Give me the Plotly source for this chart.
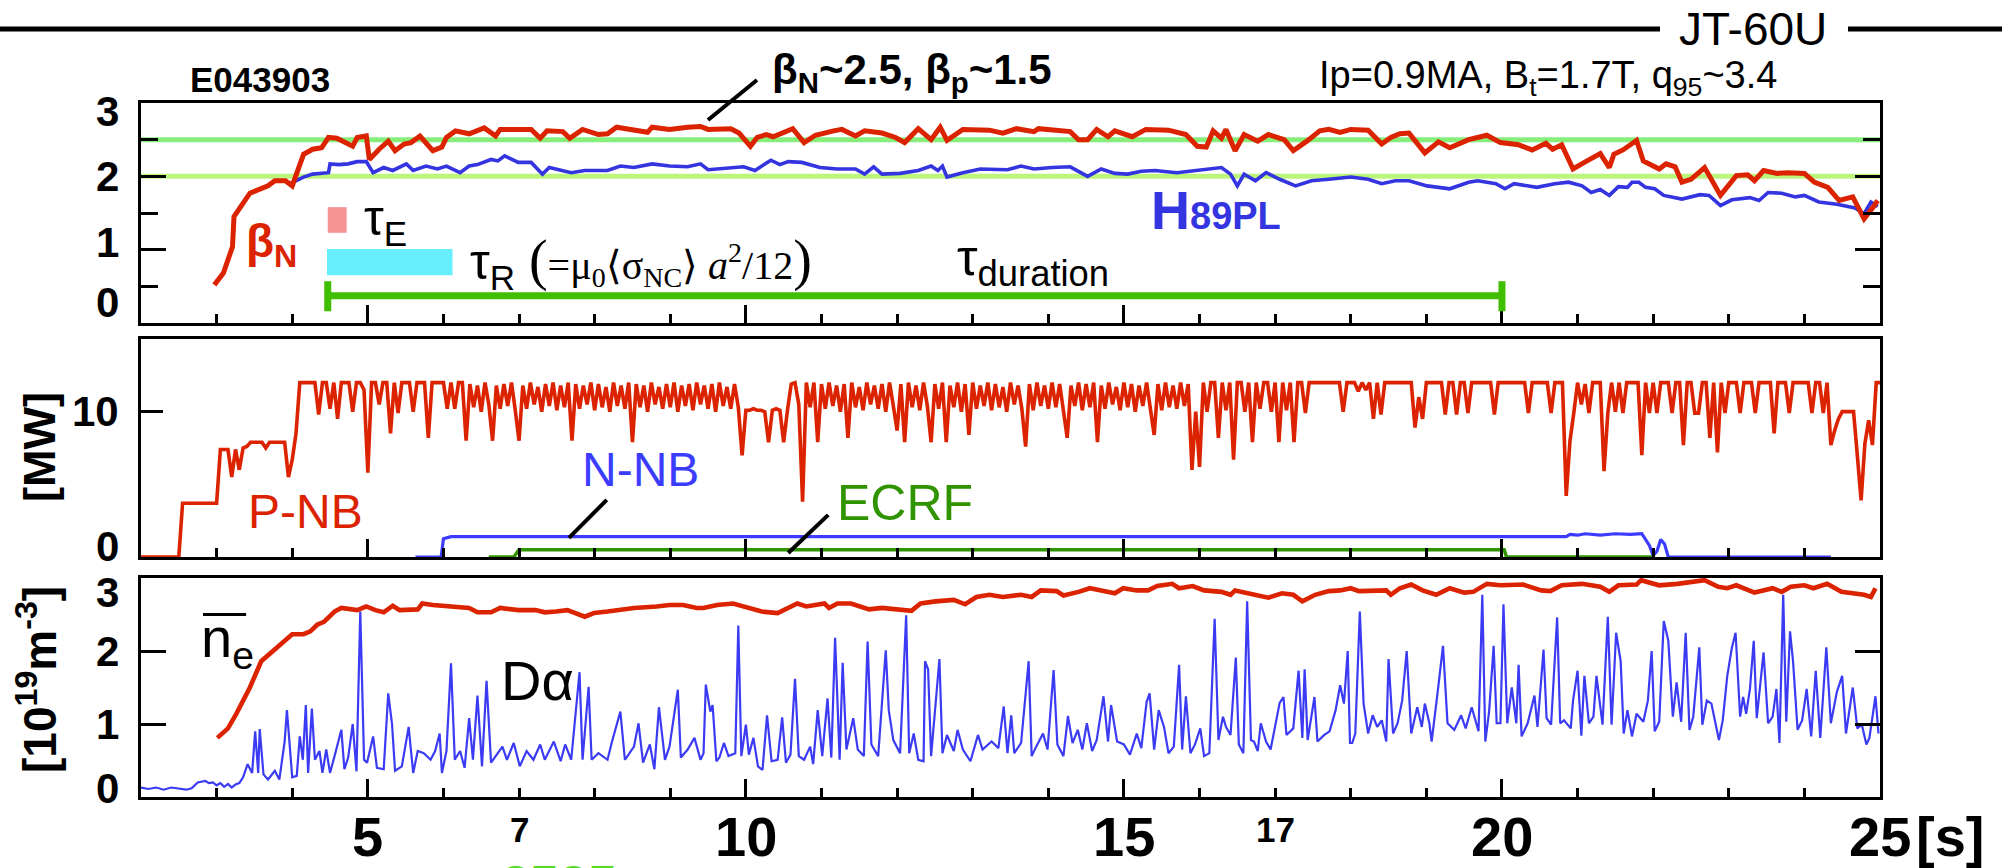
import numpy as np
import plotly.graph_objects as go

# ---------------- data ----------------
# time axis [s]
t_range = [2, 25]
x_major_ticks = [5, 10, 15, 20]
x_big_labels = ["5", "10", "15", "20", "25"]
x_big_pos = [5, 10, 15, 20, 25]
x_small_labels = ["7", "17"]
x_small_pos = [7, 17]

# beta_N (top panel, red)
bn_t = [2.97, 3.09, 3.21, 3.23, 3.44, 3.68, 3.77, 3.91, 4.00, 4.06,
        4.15, 4.27, 4.39, 4.48, 4.59, 4.80, 4.86, 4.98, 5.02, 5.15,
        5.27, 5.36, 5.48, 5.57, 5.69, 5.86, 5.98, 6.04, 6.16, 6.34,
        6.54, 6.69, 6.75, 7.16, 7.28, 7.37, 7.58, 7.67, 7.84, 8.05,
        8.17, 8.29, 8.52, 8.70, 8.76, 8.99, 9.23, 9.40, 9.50, 9.80,
        9.91, 10.06, 10.15, 10.27, 10.36, 10.62, 10.77, 10.92, 11.16, 11.27,
        11.45, 11.57, 11.80, 11.98, 12.10, 12.28, 12.45, 12.57, 12.66, 12.87,
        13.22, 13.40, 13.58, 13.81, 13.87, 14.29, 14.40, 14.52, 14.64, 14.79,
        14.88, 15.11, 15.29, 15.59, 15.82, 15.97, 16.09, 16.18, 16.29, 16.35,
        16.47, 16.59, 16.77, 16.91, 17.12, 17.24, 17.42, 17.59, 17.71, 17.86,
        18.00, 18.23, 18.41, 18.53, 18.65, 18.77, 18.98, 19.16, 19.31, 19.56,
        19.80, 19.98, 20.22, 20.40, 20.58, 20.67, 20.79, 20.94, 21.09, 21.30,
        21.42, 21.48, 21.60, 21.78, 21.87, 22.08, 22.17, 22.29, 22.38, 22.50,
        22.68, 22.89, 23.10, 23.25, 23.34, 23.46, 23.64, 23.79, 24.00, 24.13,
        24.31, 24.46, 24.64, 24.79, 24.91, 24.97]
bn_v = [0.52, 0.68, 1.04, 1.45, 1.77, 1.87, 1.94, 1.94, 1.87, 2.03,
        2.30, 2.37, 2.39, 2.53, 2.52, 2.41, 2.53, 2.55, 2.23, 2.37,
        2.48, 2.35, 2.44, 2.46, 2.55, 2.35, 2.40, 2.53, 2.62, 2.58,
        2.66, 2.55, 2.64, 2.64, 2.52, 2.62, 2.61, 2.52, 2.64, 2.57,
        2.58, 2.67, 2.63, 2.60, 2.67, 2.64, 2.67, 2.68, 2.64, 2.65,
        2.59, 2.41, 2.53, 2.57, 2.54, 2.65, 2.46, 2.56, 2.62, 2.64,
        2.55, 2.62, 2.59, 2.53, 2.46, 2.65, 2.50, 2.67, 2.49, 2.64,
        2.63, 2.59, 2.65, 2.61, 2.65, 2.61, 2.50, 2.50, 2.64, 2.54,
        2.62, 2.54, 2.64, 2.63, 2.57, 2.41, 2.40, 2.62, 2.52, 2.64,
        2.35, 2.57, 2.48, 2.57, 2.50, 2.35, 2.48, 2.62, 2.64, 2.60,
        2.64, 2.63, 2.44, 2.53, 2.58, 2.59, 2.32, 2.47, 2.39, 2.50,
        2.56, 2.46, 2.43, 2.36, 2.45, 2.37, 2.43, 2.10, 2.19, 2.31,
        2.12, 2.30, 2.36, 2.49, 2.21, 2.10, 2.17, 2.13, 1.92, 1.96,
        2.12, 1.74, 2.01, 2.02, 1.94, 2.08, 2.04, 2.05, 2.04, 1.92,
        1.85, 1.67, 1.72, 1.42, 1.58, 1.67]

# H89PL (top panel, blue)
h89_t = [3.97, 4.15, 4.27, 4.48, 4.50, 4.62, 4.74, 4.86, 4.98, 5.07,
         5.21, 5.33, 5.51, 5.60, 5.77, 5.92, 6.04, 6.22, 6.34, 6.45,
         6.63, 6.72, 6.81, 6.99, 7.16, 7.31, 7.40, 7.69, 7.87, 8.17,
         8.34, 8.52, 8.76, 8.99, 9.23, 9.40, 9.50, 9.68, 9.97, 10.12,
         10.33, 10.45, 10.56, 10.74, 10.98, 11.21, 11.45, 11.57, 11.69, 11.80,
         12.04, 12.28, 12.45, 12.54, 12.60, 12.66, 12.87, 13.10, 13.46, 13.64,
         13.81, 14.05, 14.29, 14.52, 14.70, 14.88, 15.05, 15.23, 15.41, 15.70,
         16.00, 16.29, 16.41, 16.50, 16.59, 16.74, 16.88, 17.06, 17.27, 17.48,
         17.71, 18.00, 18.23, 18.41, 18.59, 18.77, 19.01, 19.31, 19.56, 19.68,
         19.92, 20.04, 20.16, 20.46, 20.70, 20.88, 21.06, 21.18, 21.30, 21.42,
         21.54, 21.66, 21.72, 21.81, 21.90, 22.02, 22.14, 22.38, 22.62, 22.74,
         22.89, 23.04, 23.28, 23.40, 23.52, 23.70, 23.88, 24.00, 24.19, 24.43,
         24.67, 24.79, 24.88, 24.97]
h89_v = [1.90, 1.99, 2.03, 2.05, 2.17, 2.16, 2.17, 2.20, 2.20, 2.05,
         2.12, 2.08, 2.17, 2.08, 2.14, 2.10, 2.14, 2.05, 2.14, 2.16,
         2.23, 2.21, 2.28, 2.19, 2.19, 2.03, 2.12, 2.05, 2.08, 2.08,
         2.14, 2.12, 2.17, 2.14, 2.13, 2.17, 2.09, 2.11, 2.13, 2.08,
         2.22, 2.16, 2.20, 2.19, 2.12, 2.10, 2.10, 2.03, 2.13, 2.03,
         2.04, 2.08, 2.14, 2.08, 2.14, 1.99, 2.05, 2.10, 2.09, 2.14,
         2.10, 2.12, 2.13, 2.00, 2.10, 2.04, 2.03, 2.07, 2.08, 2.05,
         2.08, 2.12, 2.03, 1.87, 2.03, 1.94, 2.05, 1.96, 1.87, 1.94,
         1.96, 1.99, 1.96, 1.90, 1.94, 1.94, 1.87, 1.83, 1.92, 1.94,
         1.90, 1.83, 1.90, 1.85, 1.90, 1.92, 1.87, 1.78, 1.82, 1.74,
         1.86, 1.85, 1.92, 1.92, 1.85, 1.83, 1.74, 1.69, 1.75, 1.74,
         1.60, 1.68, 1.71, 1.67, 1.78, 1.77, 1.72, 1.74, 1.65, 1.62,
         1.57, 1.49, 1.65, 1.59]

beta_ref_levels = [2.5, 2.0]
tauE_t = [4.47, 4.72]
tauE_y = [1.23, 1.58]
tauR_t = [4.46, 6.12]
tauR_y = [0.65, 1.01]
tdur_t = [4.47, 20.0]
tdur_y = 0.37
tdur_cap = [0.16, 0.57]

# P-NB power [MW], sampled every 0.05 s from 2.00 s to 25.00 s
pnb_t0 = 2.0
pnb_dt = 0.05
pnb_v = [
    0, 0, 0, 0, 0, 0, 0, 0, 0, 0, 0, 3.7, 3.7, 3.7, 3.7, 3.7, 3.7, 3.7, 3.7, 3.7,
    3.7, 7.4, 7.4, 7.4, 5.5, 7.4, 6.0, 7.5, 7.6, 7.9, 7.9, 7.9, 7.9, 7.5, 7.9, 7.9, 7.9, 7.9, 7.9, 5.5,
    6.7, 8.5, 12, 12, 12, 12, 12, 9.8, 12, 12, 10.2, 12, 9.5, 12, 12, 12, 10.0, 12, 12, 11.5,
    5.8, 12, 12, 10.5, 12, 12, 8.5, 12, 9.9, 12, 12, 12, 10.0, 12, 12, 12, 8.2, 12, 12, 12,
    12, 10.2, 12, 10.2, 12, 12, 8.0, 11.9, 10.3, 11.8, 10.0, 12, 10.5, 8.0, 11.8, 10.2, 11.9, 10.4, 12, 10.1,
    8.0, 11.8, 10.2, 12, 10.5, 11.7, 10.0, 11.9, 10.4, 12, 10.1, 11.8, 10.3, 12, 8.0, 11.9, 10.2, 11.8, 10.5, 12,
    10.1, 11.9, 10.3, 11.7, 10.0, 12, 10.4, 11.8, 10.2, 12, 7.9, 11.9, 10.3, 11.8, 10.0, 12, 10.5, 11.7, 10.2, 11.9,
    10.3, 12, 10.0, 11.8, 10.4, 11.9, 10.1, 12, 10.5, 11.8, 10.2, 11.9, 10.0, 12, 10.4, 11.7, 10.2, 11.9, 10.3, 7.0,
    10.1, 10.1, 10.2, 10.1, 10.1, 10.0, 7.9, 10.1, 10.2, 10.1, 7.9, 10.1, 11.9, 12, 10.5, 3.8, 12, 10.3, 12, 7.9,
    11.9, 10.2, 12, 10.4, 11.8, 10.0, 11.9, 8.2, 12, 10.3, 11.7, 10.1, 12, 10.5, 11.8, 10.2, 11.9, 10.0, 12, 10.4,
    8.7, 11.9, 7.9, 12, 10.3, 11.8, 10.1, 12, 10.4, 7.9, 11.9, 10.2, 12, 7.9, 11.8, 10.3, 12, 10.0, 11.9, 8.4,
    12, 10.2, 11.8, 10.4, 12, 10.1, 11.9, 10.3, 11.7, 10.0, 12, 10.5, 11.8, 10.2, 7.6, 11.9, 10.1, 12, 10.4, 11.8,
    10.2, 12, 10.3, 11.9, 10.0, 8.2, 11.8, 10.4, 12, 10.1, 11.9, 10.3, 12, 7.9, 11.8, 10.2, 12, 10.5, 11.7, 10.1,
    12, 10.3, 11.9, 10.0, 11.8, 10.4, 12, 10.2, 8.4, 11.9, 10.1, 12, 10.3, 11.8, 10.2, 12, 10.4, 11.9, 6.0, 10.0,
    6.2, 12, 10.0, 12, 12, 8.2, 12, 10.1, 12, 6.7, 12, 12, 10.0, 12, 7.9, 12, 10.2, 12, 12, 10.0,
    12, 7.9, 12, 10.1, 12, 7.9, 12, 12, 9.9, 12, 12, 12, 12, 12, 12, 12, 12, 12, 10.0, 12,
    12, 12, 11.4, 12, 11.5, 12, 9.5, 12, 9.8, 12, 12, 12, 12, 12, 12, 12, 12, 8.9, 11.0, 9.5,
    12, 12, 12, 12, 12, 9.8, 12, 12, 9.8, 12, 12, 9.9, 12, 12, 12, 12, 12, 12, 9.8, 12,
    12, 12, 12, 12, 12, 12, 12, 9.9, 12, 12, 12, 12, 12, 9.9, 12, 12, 12, 4.2, 8.0, 9.9,
    12, 10.5, 11.9, 9.9, 12, 12, 12, 5.9, 9.9, 12, 10.0, 12, 9.9, 12, 12, 12, 12, 7.0, 12, 9.9,
    12, 9.9, 12, 12, 12, 9.9, 12, 12, 7.7, 12, 12, 9.9, 9.9, 12, 12, 8.2, 12, 7.2, 12, 9.9,
    12, 12, 12, 9.9, 12, 12, 12, 9.9, 12, 12, 12, 12, 8.5, 12, 12, 12, 9.9, 12, 12, 12,
    12, 12, 9.9, 12, 12, 9.9, 12, 7.7, 8.7, 9.5, 10.0, 10.0, 10.0, 10.0, 7.0, 3.9, 7.8, 9.4, 7.7, 12,
    12]

# N-NB power [MW]
nnb_t = [5.63, 5.97, 6.00, 6.05, 6.10, 8.0, 10.0, 12.0, 14.0, 16.0, 18.0, 20.0, 20.85,
         20.90, 21.00, 21.10, 21.30, 21.50, 21.70, 21.85, 21.95, 22.00, 22.05, 22.10,
         22.15, 22.20, 24.35]
nnb_v = [0, 0, 1.25, 1.35, 1.4, 1.4, 1.4, 1.4, 1.4, 1.4, 1.4, 1.4, 1.4,
         1.55, 1.5, 1.6, 1.5, 1.6, 1.55, 1.6, 0.8, 0.1, 0.4, 1.2,
         0.9, 0, 0]

# ECRF power [MW]
ecrf_t = [6.60, 6.93, 7.00, 20.03, 20.06, 22.00]
ecrf_v = [0, 0, 0.5, 0.5, 0, 0]

# line-averaged density [1e19 m^-3]
ne_t = [3.01, 3.15, 3.26, 3.44, 3.59, 3.74, 3.86, 4.00, 4.15, 4.24,
        4.33, 4.42, 4.56, 4.65, 4.86, 4.98, 5.10, 5.21, 5.33, 5.42,
        5.66, 5.72, 5.86, 6.04, 6.34, 6.45, 6.63, 6.75, 6.99, 7.22,
        7.34, 7.49, 7.64, 7.87, 7.99, 8.17, 8.52, 8.82, 8.99, 9.17,
        9.35, 9.44, 9.62, 9.83, 9.97, 10.21, 10.42, 10.56, 10.68, 10.80,
        11.04, 11.10, 11.21, 11.39, 11.63, 11.80, 12.04, 12.19, 12.31, 12.51,
        12.75, 12.90, 13.05, 13.22, 13.40, 13.64, 13.78, 13.90, 14.11, 14.20,
        14.40, 14.55, 14.70, 14.88, 14.99, 15.17, 15.32, 15.44, 15.64, 15.73,
        15.91, 16.06, 16.29, 16.41, 16.47, 16.65, 16.91, 17.09, 17.24, 17.36,
        17.53, 17.71, 17.86, 18.00, 18.11, 18.47, 18.53, 18.65, 18.80, 18.95,
        19.13, 19.31, 19.50, 19.62, 19.80, 19.98, 20.28, 20.52, 20.64, 20.79,
        21.06, 21.30, 21.42, 21.54, 21.78, 21.84, 22.08, 22.32, 22.56, 22.68,
        22.86, 22.98, 23.10, 23.34, 23.58, 23.70, 23.82, 24.00, 24.12, 24.30,
        24.49, 24.79, 24.88, 24.94]
ne_v = [0.81, 0.94, 1.14, 1.50, 1.86, 2.00, 2.11, 2.23, 2.23, 2.27,
        2.36, 2.40, 2.54, 2.59, 2.56, 2.61, 2.56, 2.53, 2.62, 2.56,
        2.57, 2.65, 2.63, 2.61, 2.59, 2.53, 2.53, 2.59, 2.56, 2.56,
        2.53, 2.54, 2.56, 2.47, 2.52, 2.54, 2.59, 2.61, 2.63, 2.63,
        2.59, 2.59, 2.63, 2.65, 2.61, 2.54, 2.52, 2.59, 2.65, 2.61,
        2.65, 2.59, 2.65, 2.65, 2.57, 2.59, 2.57, 2.55, 2.65, 2.68,
        2.70, 2.64, 2.74, 2.77, 2.74, 2.77, 2.74, 2.83, 2.82, 2.76,
        2.81, 2.86, 2.83, 2.79, 2.86, 2.83, 2.83, 2.89, 2.92, 2.86,
        2.89, 2.83, 2.81, 2.77, 2.83, 2.79, 2.73, 2.79, 2.77, 2.68,
        2.77, 2.82, 2.83, 2.86, 2.82, 2.83, 2.77, 2.86, 2.91, 2.83,
        2.77, 2.86, 2.80, 2.81, 2.92, 2.90, 2.91, 2.83, 2.82, 2.90,
        2.92, 2.88, 2.81, 2.90, 2.91, 2.97, 2.90, 2.92, 2.95, 2.97,
        2.88, 2.86, 2.90, 2.80, 2.86, 2.81, 2.88, 2.90, 2.86, 2.92,
        2.81, 2.77, 2.74, 2.86]

# D-alpha (arbitrary units on the density scale)
da_t = [2.00, 2.10, 2.20, 2.30, 2.40, 2.50, 2.60, 2.67, 2.75, 2.85,
        2.90, 2.95, 3.00, 3.05, 3.10, 3.15, 3.20, 3.25, 3.30, 3.35,
        3.41, 3.47, 3.51, 3.55, 3.57, 3.62, 3.68, 3.77, 3.83, 3.90,
        3.93, 4.00, 4.06, 4.10, 4.14, 4.18, 4.21, 4.26, 4.30, 4.36,
        4.40, 4.45, 4.50, 4.56, 4.65, 4.69, 4.74, 4.80, 4.85, 4.90,
        4.95, 4.99, 5.07, 5.12, 5.21, 5.27, 5.32, 5.36, 5.45, 5.54,
        5.60, 5.66, 5.74, 5.83, 5.89, 5.95, 5.98, 6.04, 6.10, 6.15,
        6.22, 6.28, 6.34, 6.39, 6.45, 6.51, 6.57, 6.63, 6.69, 6.78,
        6.84, 6.93, 7.01, 7.10, 7.19, 7.28, 7.34, 7.46, 7.55, 7.61,
        7.69, 7.80, 7.84, 7.92, 7.96, 8.05, 8.17, 8.23, 8.34, 8.40,
        8.52, 8.58, 8.64, 8.73, 8.79, 8.85, 8.93, 8.99, 9.10, 9.14,
        9.23, 9.32, 9.40, 9.44, 9.47, 9.53, 9.56, 9.61, 9.65, 9.71,
        9.77, 9.86, 9.90, 9.94, 10.00, 10.04, 10.10, 10.16, 10.22, 10.28,
        10.34, 10.42, 10.48, 10.53, 10.59, 10.65, 10.70, 10.77, 10.85, 10.89,
        10.95, 11.01, 11.08, 11.13, 11.18, 11.24, 11.28, 11.33, 11.42, 11.48,
        11.56, 11.61, 11.66, 11.75, 11.85, 11.89, 11.95, 12.04, 12.12, 12.16,
        12.22, 12.28, 12.35, 12.37, 12.41, 12.45, 12.56, 12.60, 12.66, 12.75,
        12.80, 12.87, 12.97, 13.07, 13.13, 13.25, 13.34, 13.41, 13.46, 13.51,
        13.55, 13.64, 13.74, 13.78, 13.84, 13.93, 13.99, 14.07, 14.12, 14.20,
        14.26, 14.32, 14.39, 14.45, 14.51, 14.58, 14.64, 14.73, 14.79, 14.83,
        14.91, 15.00, 15.08, 15.17, 15.23, 15.30, 15.34, 15.40, 15.46, 15.53,
        15.59, 15.66, 15.73, 15.77, 15.82, 15.88, 15.94, 16.01, 16.06, 16.13,
        16.20, 16.25, 16.31, 16.35, 16.41, 16.48, 16.52, 16.58, 16.63, 16.68,
        16.72, 16.77, 16.81, 16.88, 16.94, 17.06, 17.11, 17.15, 17.24, 17.31,
        17.36, 17.39, 17.43, 17.52, 17.56, 17.65, 17.72, 17.80, 17.86, 17.91,
        17.96, 17.99, 18.02, 18.06, 18.12, 18.17, 18.23, 18.29, 18.35, 18.41,
        18.47, 18.50, 18.56, 18.62, 18.68, 18.74, 18.80, 18.88, 18.94, 18.98,
        19.04, 19.07, 19.16, 19.22, 19.28, 19.37, 19.46, 19.52, 19.60, 19.69,
        19.74, 19.78, 19.83, 19.89, 19.93, 19.98, 20.02, 20.07, 20.13, 20.19,
        20.22, 20.26, 20.34, 20.43, 20.47, 20.55, 20.59, 20.65, 20.73, 20.77,
        20.82, 20.91, 20.94, 21.00, 21.05, 21.09, 21.15, 21.21, 21.25, 21.33,
        21.40, 21.45, 21.51, 21.57, 21.61, 21.66, 21.72, 21.78, 21.87, 21.93,
        21.98, 22.02, 22.08, 22.14, 22.20, 22.26, 22.31, 22.37, 22.43, 22.48,
        22.53, 22.61, 22.65, 22.71, 22.77, 22.83, 22.87, 22.92, 22.98, 23.04,
        23.09, 23.15, 23.19, 23.23, 23.28, 23.33, 23.37, 23.46, 23.52, 23.58,
        23.63, 23.67, 23.72, 23.76, 23.81, 23.85, 23.91, 23.97, 24.03, 24.09,
        24.15, 24.21, 24.29, 24.35, 24.43, 24.50, 24.55, 24.64, 24.70, 24.76,
        24.82, 24.86, 24.94, 24.98]
da_v = [0.13, 0.11, 0.13, 0.10, 0.13, 0.11, 0.10, 0.12, 0.20, 0.22,
        0.19, 0.20, 0.16, 0.19, 0.14, 0.18, 0.13, 0.17, 0.19, 0.27,
        0.45, 0.33, 0.90, 0.33, 0.93, 0.31, 0.24, 0.36, 0.24, 0.76,
        1.19, 0.27, 0.29, 0.83, 0.51, 1.26, 0.33, 1.21, 0.51, 0.63,
        0.33, 0.65, 0.33, 0.56, 0.92, 0.38, 0.54, 1.00, 0.35, 2.54,
        0.51, 0.47, 0.83, 0.40, 0.38, 1.42, 1.00, 0.36, 0.42, 0.96,
        0.33, 0.63, 0.60, 0.51, 0.63, 0.87, 0.33, 0.63, 1.83, 0.51,
        0.63, 0.40, 1.08, 0.51, 1.39, 0.42, 1.59, 0.47, 0.56, 0.69,
        0.51, 0.74, 0.42, 0.63, 0.51, 0.72, 0.51, 0.76, 0.49, 0.72,
        0.51, 1.71, 0.51, 1.51, 0.51, 0.60, 0.51, 0.76, 1.17, 0.51,
        0.69, 1.01, 0.47, 0.72, 0.38, 1.23, 0.51, 0.69, 1.47, 0.54,
        0.65, 0.81, 0.51, 0.60, 1.54, 1.17, 1.26, 0.49, 0.54, 0.74,
        0.56, 0.60, 2.35, 0.56, 0.99, 0.58, 0.81, 0.42, 0.37, 1.12,
        0.49, 0.51, 1.09, 0.47, 0.58, 1.62, 0.56, 0.51, 0.69, 0.45,
        1.19, 0.56, 1.35, 0.54, 2.18, 0.51, 1.84, 0.65, 1.08, 0.65,
        0.56, 2.13, 0.72, 0.56, 2.01, 1.19, 0.78, 0.60, 2.49, 0.60,
        0.87, 0.51, 0.49, 1.86, 1.75, 0.56, 1.89, 0.60, 0.85, 0.63,
        0.92, 0.65, 0.49, 0.85, 0.65, 0.76, 0.67, 1.24, 0.60, 1.12,
        0.60, 0.74, 1.86, 0.56, 0.69, 0.87, 0.65, 1.74, 0.72, 0.56,
        1.11, 0.74, 0.92, 0.65, 1.01, 0.63, 0.78, 1.38, 0.76, 1.26,
        0.76, 0.72, 0.58, 0.87, 0.67, 1.30, 1.42, 0.65, 1.19, 0.96,
        0.60, 0.69, 1.81, 0.65, 1.38, 0.60, 0.72, 0.94, 0.56, 0.60,
        2.44, 0.78, 1.10, 0.96, 0.85, 1.91, 0.72, 0.60, 2.68, 0.78,
        0.76, 0.63, 1.01, 0.76, 0.65, 1.29, 1.37, 0.85, 0.94, 1.73,
        0.81, 1.75, 0.78, 1.37, 0.76, 0.85, 0.90, 1.19, 1.53, 1.28,
        2.00, 0.74, 0.74, 0.87, 2.54, 1.28, 0.87, 1.12, 0.96, 1.05,
        0.76, 1.89, 0.87, 1.01, 1.32, 2.00, 0.87, 1.23, 0.96, 1.28,
        1.01, 0.76, 1.53, 2.07, 1.01, 0.92, 1.12, 0.94, 1.23, 0.90,
        2.77, 0.76, 1.17, 2.07, 1.01, 1.01, 2.64, 1.01, 1.50, 1.01,
        1.81, 0.83, 1.01, 1.39, 0.96, 2.02, 1.08, 0.99, 2.46, 1.01,
        1.05, 0.94, 1.32, 1.73, 0.84, 1.66, 1.01, 1.10, 1.66, 0.99,
        2.47, 0.99, 2.25, 1.86, 0.87, 1.19, 0.83, 1.14, 1.03, 1.32,
        2.00, 0.90, 1.03, 2.41, 2.14, 1.10, 1.57, 1.03, 2.25, 0.92,
        1.10, 2.05, 0.99, 1.32, 1.28, 0.99, 0.78, 1.05, 1.66, 2.04,
        2.25, 1.10, 1.37, 1.14, 1.48, 2.14, 1.08, 1.98, 1.01, 1.10,
        1.48, 0.74, 2.77, 1.03, 2.27, 1.86, 0.92, 1.05, 1.48, 0.83,
        1.73, 0.81, 2.05, 1.01, 1.44, 1.66, 0.87, 1.50, 0.94, 0.99,
        0.72, 0.81, 1.38, 0.87]

# ---------------- styling ----------------
RED = "#dc2300"
BLUE_H = "#3434e0"
BLUE_N = "#3c3cff"
BLUE_D = "#3b3bf4"
GREEN_E = "#2f9400"
GREEN_BAR = "#40bf00"
GREEN_25 = "#86ef7c"
GREEN_20 = "#bcf57c"
PINK = "#f59494"
CYAN = "#66eefc"
SANS = "Liberation Sans, Arial, Helvetica, sans-serif"
SERIF = "Liberation Serif, Times New Roman, serif"

W, H = 2013, 868
L, R, T, B = 141, 1880, 103, 797


def px(x):
    return (x - L) / (R - L)


def py(y):
    return (B - y) / (B - T)


pnb_t = np.round(pnb_t0 + pnb_dt * np.arange(len(pnb_v)), 3)

fig = go.Figure()
fig.add_trace(go.Scatter(x=h89_t, y=h89_v, xaxis="x", yaxis="y", mode="lines",
                         line=dict(color=BLUE_H, width=3.6)))
fig.add_trace(go.Scatter(x=bn_t, y=bn_v, xaxis="x", yaxis="y", mode="lines",
                         line=dict(color=RED, width=5)))
fig.add_trace(go.Scatter(x=ecrf_t, y=ecrf_v, xaxis="x2", yaxis="y2", mode="lines",
                         line=dict(color=GREEN_E, width=3.5)))
fig.add_trace(go.Scatter(x=nnb_t, y=nnb_v, xaxis="x2", yaxis="y2", mode="lines",
                         line=dict(color=BLUE_N, width=3.2)))
fig.add_trace(go.Scatter(x=pnb_t, y=pnb_v, xaxis="x2", yaxis="y2", mode="lines",
                         line=dict(color=RED, width=3.6)))
fig.add_trace(go.Scatter(x=da_t, y=da_v, xaxis="x3", yaxis="y3", mode="lines",
                         line=dict(color=BLUE_D, width=2.2)))
fig.add_trace(go.Scatter(x=ne_t, y=ne_v, xaxis="x3", yaxis="y3", mode="lines",
                         line=dict(color=RED, width=4.6)))


def xaxis(anchor):
    return dict(domain=[0, 1], anchor=anchor, range=t_range, showline=True, linecolor="black",
                linewidth=3, mirror=True, ticks="inside", tickmode="array",
                tickvals=x_major_ticks, ticklen=18, tickwidth=3, tickcolor="black",
                showticklabels=False, showgrid=False, zeroline=False,
                minor=dict(ticks="inside", tickmode="linear", tick0=2, dtick=1, ticklen=9,
                           tickwidth=3, tickcolor="black", showgrid=False))


def yaxis(anchor, dom, rng, major, minor_vals, mirror, majlen=25):
    d = dict(domain=dom, anchor=anchor, range=rng, showline=True, linecolor="black",
             linewidth=3, mirror=mirror, ticks="inside", tickmode="array", tickvals=major,
             ticklen=majlen, tickwidth=3, tickcolor="black", showticklabels=False,
             showgrid=False, zeroline=False)
    if minor_vals:
        d["minor"] = dict(ticks="inside", tickmode="array", tickvals=minor_vals, ticklen=17,
                          tickwidth=3, tickcolor="black", showgrid=False)
    return d


shapes = []
for lvl, col in zip(beta_ref_levels, [GREEN_25, GREEN_20]):
    shapes.append(dict(type="line", xref="x", yref="y", x0=t_range[0], x1=t_range[1], y0=lvl,
                       y1=lvl, line=dict(color=col, width=5), layer="below"))
shapes.append(dict(type="rect", xref="x", yref="y", x0=tauE_t[0], x1=tauE_t[1], y0=tauE_y[0],
                   y1=tauE_y[1], fillcolor=PINK, line=dict(width=0)))
shapes.append(dict(type="rect", xref="x", yref="y", x0=tauR_t[0], x1=tauR_t[1], y0=tauR_y[0],
                   y1=tauR_y[1], fillcolor=CYAN, line=dict(width=0)))
shapes.append(dict(type="line", xref="x", yref="y", x0=tdur_t[0], x1=tdur_t[1], y0=tdur_y,
                   y1=tdur_y, line=dict(color=GREEN_BAR, width=7)))
for tt in tdur_t:
    shapes.append(dict(type="line", xref="x", yref="y", x0=tt, x1=tt, y0=tdur_cap[0],
                       y1=tdur_cap[1], line=dict(color=GREEN_BAR, width=7)))
# header rule with gap for "JT-60U"
shapes.append(dict(type="line", xref="paper", yref="paper", x0=px(0), x1=px(1660), y0=py(29),
                   y1=py(29), line=dict(color="black", width=5)))
shapes.append(dict(type="line", xref="paper", yref="paper", x0=px(1848), x1=px(2002), y0=py(29),
                   y1=py(29), line=dict(color="black", width=5)))
# pointer lines
shapes.append(dict(type="line", xref="paper", yref="paper", x0=px(708), x1=px(757), y0=py(120),
                   y1=py(80), line=dict(color="black", width=4)))
shapes.append(dict(type="line", xref="x2", yref="y2", x0=7.66, x1=8.16, y0=1.31, y1=3.93,
                   line=dict(color="black", width=4)))
shapes.append(dict(type="line", xref="x2", yref="y2", x0=10.56, x1=11.09, y0=0.28, y1=2.9,
                   line=dict(color="black", width=4)))
# overbar of n_e
shapes.append(dict(type="line", xref="x3", yref="y3", x0=2.82, x1=3.39, y0=2.50, y1=2.50,
                   line=dict(color="black", width=3)))

ann = []


def A(text, x, y, size, color="black", xref="paper", yref="paper", bold=False, family=SANS,
      xanchor="center", yanchor="middle", angle=0, pad=1):
    if bold:
        text = "<b>" + text + "</b>"
    ann.append(dict(text=text, x=x, y=y, xref=xref, yref=yref, showarrow=False,
                    font=dict(size=size, color=color, family=family), xanchor=xanchor,
                    yanchor=yanchor, textangle=angle, borderpad=pad))


A("E043903", px(260), py(80), 35, bold=True)
A("β<sub>N</sub>~2.5, β<sub>p</sub>~1.5", px(912), py(72), 42, bold=True)
A("Ip=0.9MA, B<sub>t</sub>=1.7T, q<sub>95</sub>~3.4", px(1548), py(78), 38)
A("JT-60U", px(1753), py(29), 46)

# y tick labels
for lab, val in zip(["3", "2", "1", "0"], [2.89, 2.0, 1.1, 0.28]):
    A(lab, px(121), val, 42, yref="y", bold=True, xanchor="right")
for lab, val in zip(["10", "0"], [10, 0.7]):
    A(lab, px(121), val, 42, yref="y2", bold=True, xanchor="right")
for lab, val in zip(["3", "2", "1", "0"], [2.80, 2.0, 1.0, 0.12]):
    A(lab, px(121), val, 42, yref="y3", bold=True, xanchor="right")

# x tick labels
for lab, pos in zip(x_big_labels, x_big_pos):
    A(lab, pos, py(836), 56, xref="x3", bold=True, pad=0)
for lab, pos in zip(x_small_labels, x_small_pos):
    A(lab, pos, py(829), 35, xref="x3", bold=True)
A("[s]", px(1950), py(836), 56, bold=True, pad=0)
A("OEOE", px(558), py(857), 40, color="#55dd22", bold=True, yanchor="top", pad=0)

# axis titles
A("[MW]", px(39), py(447), 45, bold=True, angle=-90)
A("[10<sup>19</sup>m<sup>-3</sup>]", px(37), py(680), 46, bold=True, angle=-90)

# top panel labels
A("β<sub>N</sub>", 3.72, 1.07, 46, color=RED, xref="x", yref="y", bold=True)
A("τ<sub>E</sub>", 5.24, 1.38, 50, xref="x", yref="y")
A("τ<sub>R</sub> <span style='font-family:Liberation Serif;font-size:56px'>(</span>"
  "<span style='font-family:Liberation Serif;font-size:40px'>=μ<sub>0</sub>⟨σ<sub>NC</sub>⟩ "
  "<i>a</i><sup>2</sup>/12</span>"
  "<span style='font-family:Liberation Serif;font-size:56px'>)</span>",
  8.61, 0.82, 50, xref="x", yref="y")
A("τ<sub>duration</sub>", 13.80, 0.84, 52, xref="x", yref="y")
A("H<span style='font-size:38px'>89PL</span>", 16.22, 1.54, 54, color=BLUE_H, xref="x",
  yref="y", bold=True)

# middle panel labels
A("P-NB", 4.17, 3.1, 48, color=RED, xref="x2", yref="y2")
A("N-NB", 8.61, 6.0, 48, color=BLUE_N, xref="x2", yref="y2")
A("ECRF", 12.11, 3.7, 50, color=GREEN_E, xref="x2", yref="y2")

# bottom panel labels
A("n<sub>e</sub>", 3.15, 2.13, 56, xref="x3", yref="y3")
A("Dα", 7.25, 1.59, 56, xref="x3", yref="y3")

fig.update_layout(
    width=W, height=H,
    margin=dict(l=L, r=W - R, t=T, b=H - B),
    paper_bgcolor="white", plot_bgcolor="white", showlegend=False,
    font=dict(family=SANS, color="black"),
    xaxis=xaxis("y"), xaxis2=xaxis("y2"), xaxis3=xaxis("y3"),
    yaxis=yaxis("x", [py(323), 1], [0, 3], [1, 2], [0.5, 1.5, 2.5], "ticks"),
    yaxis2=yaxis("x2", [py(557), py(339)], [0, 15], [10], None, True, majlen=22),
    yaxis3=yaxis("x3", [0, py(578)], [0, 3], [1, 2], None, "ticks"),
    shapes=shapes, annotations=ann, hovermode=False,
)

fig.write_html("out.html", config={"displayModeBar": False})
